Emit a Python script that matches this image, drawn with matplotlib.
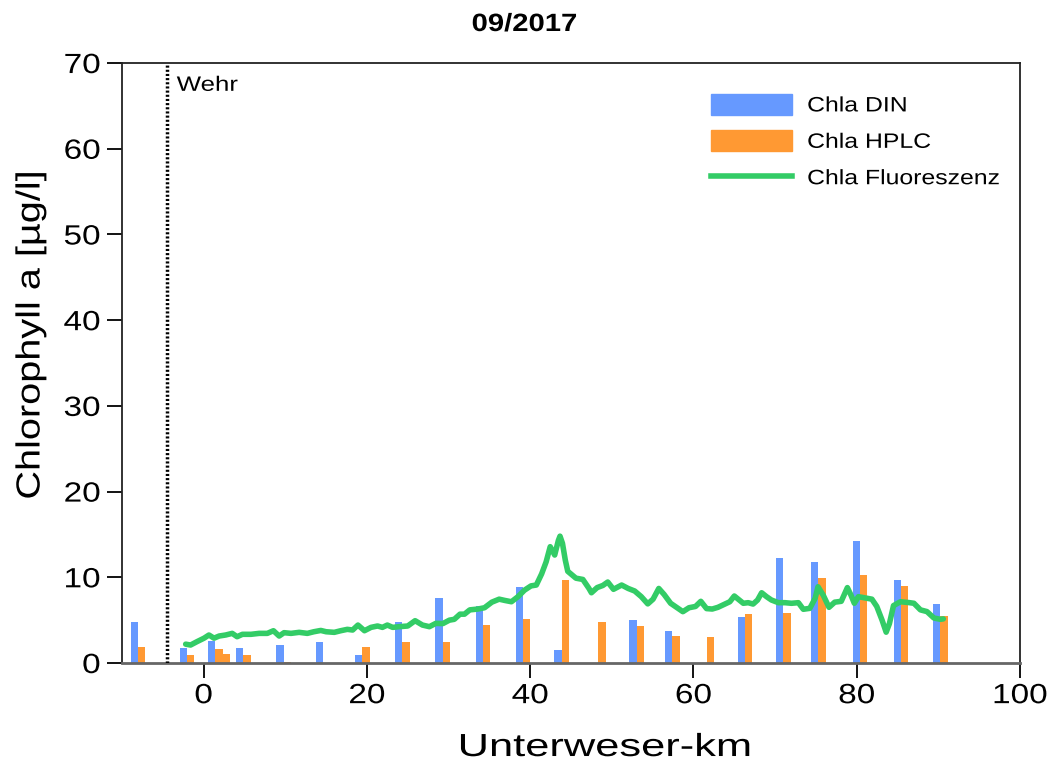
import numpy as np
import matplotlib
matplotlib.use("Agg")
import matplotlib.pyplot as plt
from matplotlib.patches import Patch
from matplotlib.lines import Line2D
from matplotlib.patheffects import AbstractPathEffect
from matplotlib.transforms import Affine2D

plt.rcParams['font.family'] = ['Liberation Sans', 'DejaVu Sans']

# Sampling stations (Unterweser-km) and chlorophyll values
stations = [-8.05, -2.05, 1.43, 2.35, 4.85, 9.8, 14.65, 19.45, 24.35, 29.3, 34.2,
            39.1, 43.85, 48.35, 53.05, 57.4, 61.65, 66.3, 71.0, 75.3, 80.4, 85.4, 90.25]
chla_din = [4.75, 1.8, 2.6, np.nan, 1.8, 2.1, 2.4, 0.95, 4.75, 7.55, 6.65,
            8.9, 1.52, np.nan, 5.0, 3.77, np.nan, 5.33, 12.2, 11.8, 14.2, 9.7, 6.85]
chla_hplc = [1.9, 0.95, 1.6, 1.0, 0.95, 0.1, np.nan, 1.87, 2.5, 2.5, 4.4,
             5.1, 9.7, 4.75, 4.3, 3.15, 3.0, 5.68, 5.8, 9.88, 10.27, 9.0, 5.52]

# Fluorescence profile
fluo_km = [-2.2, -1.6, -0.8, 0.05, 0.65, 1.27, 1.9, 2.7, 3.5, 4.1, 4.75, 5.8, 6.8, 7.8,
           8.55, 9.25, 9.85, 10.7, 11.7, 12.7, 13.5, 14.35, 15.0, 16.0, 16.8, 17.6,
           18.25, 18.9, 19.7, 20.5, 21.3, 21.9, 22.5, 23.15, 23.95, 25.0, 25.9, 26.8,
           27.65, 28.45, 29.3, 30.1, 30.7, 31.4, 31.95, 32.6, 33.6, 34.4, 35.3, 36.2,
           36.9, 37.7, 38.5, 39.3, 40.1, 40.75, 41.4, 41.95, 42.45, 43.0, 43.45, 43.65,
           43.95, 44.3, 44.6, 45.1, 45.6, 46.45, 47.2, 47.5, 48.2, 48.9, 49.5, 50.2,
           51.2, 52.0, 52.8, 53.6, 54.4, 55.05, 55.75, 56.4, 57.2, 58.0, 58.7, 59.45,
           60.25, 60.9, 61.6, 62.3, 63.0, 63.85, 64.45, 65.0, 65.5, 66.1, 66.7, 67.3,
           67.85, 68.35, 68.95, 69.55, 70.4, 71.2, 72.0, 72.85, 73.45, 74.25, 74.9,
           75.25, 75.9, 76.6, 77.3, 78.1, 78.85, 79.3, 79.7, 80.2, 81.0, 81.85, 82.45,
           83.1, 83.6, 84.0, 84.5, 85.35, 86.4, 87.0, 87.8, 88.6, 89.45, 90.25, 90.6]
fluo_val = [2.2, 2.1, 2.5, 2.9, 3.27, 2.9, 3.15, 3.27, 3.46, 3.07, 3.35, 3.35, 3.46, 3.46,
            3.77, 3.15, 3.54, 3.46, 3.58, 3.46, 3.65, 3.8, 3.65, 3.58, 3.77, 3.93,
            3.85, 4.43, 3.77, 4.16, 4.32, 4.16, 4.43, 4.16, 4.24, 4.32, 4.94, 4.43,
            4.24, 4.63, 4.6, 5.0, 5.1, 5.7, 5.7, 6.2, 6.3, 6.45, 7.1, 7.45,
            7.3, 7.15, 7.74, 8.5, 9.0, 9.1, 10.4, 11.8, 13.57, 12.6, 14.3, 14.8,
            13.97, 12.0, 10.7, 10.3, 9.9, 9.75, 8.7, 8.2, 8.8, 9.05, 9.45, 8.6,
            9.1, 8.7, 8.4, 7.75, 6.9, 7.45, 8.7, 8.0, 6.97, 6.45, 5.99, 6.45,
            6.6, 7.2, 6.35, 6.3, 6.5, 6.88, 7.15, 7.82, 7.43, 6.97, 7.04, 6.88,
            7.35, 8.2, 7.74, 7.35, 7.04, 7.04, 6.97, 7.04, 6.27, 6.38, 7.55,
            8.9, 7.9, 6.5, 7.1, 7.2, 8.8, 7.9, 6.97, 7.74, 7.6, 7.45, 6.6,
            5.0, 3.6, 4.6, 6.7, 7.15, 7.05, 6.97, 6.2, 6.0, 5.25, 5.1, 5.15]

wehr_km = -4.5
x_ticks = [0, 20, 40, 60, 80, 100]
y_ticks = [0, 10, 20, 30, 40, 50, 60, 70]

c_din = '#6699FF'
c_hplc = '#FF9933'
c_fluo = '#33CC66'


class Widen(AbstractPathEffect):
    """Draw text glyphs widened along their baseline (the reference uses a wide font)."""

    def __init__(self, sx=1.2, anchor='center'):
        super().__init__()
        self.sx = sx
        self.anchor = anchor

    def draw_path(self, renderer, gc, tpath, affine, rgbFace=None):
        ext = tpath.get_extents()
        if self.anchor == 'left':
            x0 = ext.x0
        elif self.anchor == 'right':
            x0 = ext.x1
        else:
            x0 = 0.5 * (ext.x0 + ext.x1)
        pre = Affine2D().translate(-x0, 0).scale(self.sx, 1.0).translate(x0, 0)
        renderer.draw_path(gc, tpath, pre + affine, rgbFace)


fig = plt.figure(figsize=(10.49, 7.65), dpi=100)
ax = fig.add_axes([0.1163, 0.1333, 0.8561, 0.7843])

st = np.array(stations)
bw = 0.9
ax.bar(st - bw / 2, chla_din, width=bw, color=c_din, zorder=2)
ax.bar(st + bw / 2, chla_hplc, width=bw, color=c_hplc, zorder=2)
ax.plot(fluo_km, fluo_val, color=c_fluo, lw=4.0, zorder=3,
        solid_joinstyle='round', solid_capstyle='round')

ax.axvline(wehr_km, color='black', lw=2.5, linestyle=(0, (0.6, 0.6)), zorder=4)
t_wehr = ax.text(wehr_km + 1.2, 67.4, 'Wehr', fontsize=15, va='center', ha='left')
t_wehr.set_path_effects([Widen(1.24, 'left')])

ax.set_xlim(-10, 100)
ax.set_ylim(0, 70)
ax.set_xticks(x_ticks)
ax.set_yticks(y_ticks)
ax.tick_params(direction='out', length=10.5, width=1.3, labelsize=20, pad=5)
ax.tick_params(axis='x', pad=4)
for lbl in ax.get_yticklabels():
    lbl.set_path_effects([Widen(1.2, 'right')])
for lbl in ax.get_xticklabels():
    lbl.set_path_effects([Widen(1.2, 'center')])
for s in ax.spines.values():
    s.set_linewidth(1.3)
    s.set_color('#222222')
ax.spines['bottom'].set_color('#666666')
ax.spines['bottom'].set_linewidth(2)

xl = ax.set_xlabel('Unterweser-km', fontsize=23)
xl.set_path_effects([Widen(1.36, 'center')])
ax.xaxis.set_label_coords((605 - 122) / 898, -(748 - 663) / 600)
xl.set_va('center')
yl = ax.set_ylabel('Chlorophyll a [µg/l]', fontsize=24)
yl.set_path_effects([Widen(1.19, 'center')])
ax.yaxis.set_label_coords(-(122 - 31) / 898, (663 - 335) / 600)
yl.set_va('center')

title = fig.text(0.5, 1 - 24 / 765, '09/2017', fontsize=18, fontweight='bold',
                 ha='center', va='center')
title.set_path_effects([Widen(1.17, 'center')])

handles = [Patch(color=c_din, label='Chla DIN'),
           Patch(color=c_hplc, label='Chla HPLC'),
           Line2D([0], [0], color=c_fluo, lw=4.0, label='Chla Fluoreszenz')]
leg = ax.legend(handles=handles, loc='upper left',
                bbox_to_anchor=((711 - 122) / 898, (663 - 94) / 600),
                frameon=False, borderaxespad=0, borderpad=0,
                fontsize=15, handlelength=3.9, handleheight=1.15, handletextpad=0.72,
                labelspacing=0.72)
for t in leg.get_texts():
    t.set_path_effects([Widen(1.19, 'left')])

fig.savefig('out.png', dpi=100)
